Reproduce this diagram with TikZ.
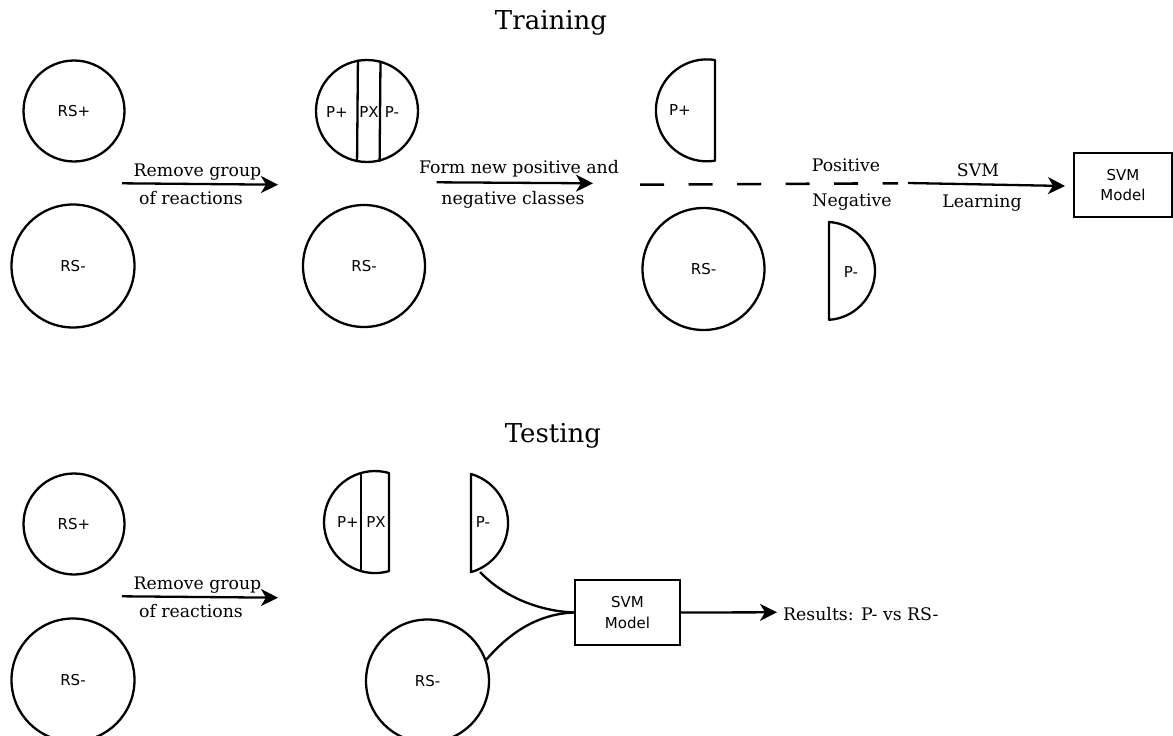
\documentclass[tikz,border=0pt]{standalone}
\usepackage{fontspec}
\setmainfont{DejaVu Serif}
\newfontfamily\sansf{DejaVu Sans}
\usetikzlibrary{arrows.meta}
\begin{document}
\begin{tikzpicture}[x=1pt,y=-1pt,
  ln/.style={line width=2.3pt},
  circ/.style={ln,draw,circle,inner sep=0pt,font=\sansf\fontsize{15}{17}\selectfont},
  half/.style={ln,draw,line join=round},
  sl/.style={inner sep=0pt,font=\sansf\fontsize{15}{17}\selectfont},
  lbl/.style={inner sep=0pt,anchor=base,font=\fontsize{17.3}{20}\selectfont},
  ttl/.style={inner sep=0pt,anchor=base,font=\fontsize{26}{30}\selectfont},
  arr/.style={ln,-{Stealth[length=17pt,width=17pt,inset=5pt]}},
  box/.style={ln,draw,rectangle,inner sep=0pt,align=center,font=\sansf\fontsize{15}{20.5}\selectfont}
]
\useasboundingbox (0,0) rectangle (1173,736);

% ---------------- Training ----------------
\node[ttl] (ttrain) at (551,29) {Training};

\node[circ,minimum size=101] (rsp1) at (74,111) {RS+};
\node[circ,minimum size=123] (rsm1) at (73,266) {RS-};

\coordinate (a1s) at (122,183.3);
\coordinate (a1e) at (278,184.7);
\draw[arr] (a1s) -- (a1e);
\node[lbl] (a1t) at (197.5,176.7) {Remove group};
\node[lbl] (a1b) at (191,204) {of reactions};

\node[circ,minimum size=102] (split) at (367,111) {};
\draw[ln] (split.100.2) -- (split.259.8);
\draw[ln] (split.75.2) -- (split.284.8);
\node[sl] (sp) at (337,112) {P+};
\node[sl] (sx) at (369,112) {PX};
\node[sl] (sm) at (392,112) {P-};
\node[circ,minimum size=122] (rsm2) at (364,266) {RS-};

\coordinate (a2s) at (436.7,182.3);
\coordinate (a2e) at (593,183.3);
\draw[arr] (a2s) -- (a2e);
\node[lbl] (a2t) at (519,173.3) {Form new positive and};
\node[lbl] (a2b) at (513,204) {negative classes};

\draw[half] (715,160) -- (715,60) arc[start angle=80.9,end angle=279.1,radius=51pt] -- cycle;
\node[sl] (hp) at (680,110) {P+};
\draw[half] (829,320) -- (829,222) arc[start angle=86.5,end angle=-86.5,radius=49pt] -- cycle;
\node[sl] (hm) at (851,272) {P-};
\node[circ,minimum size=122] (rsm3) at (703.5,269) {RS-};

\coordinate (ds) at (640,184.7);
\coordinate (de) at (898,183.3);
\draw[line width=2.6pt,dash pattern=on 24pt off 24.5pt] (ds) -- (de);
\node[lbl] (pos) at (846,171.7) {Positive};
\node[lbl] (neg) at (852,206.7) {Negative};

\node[box,minimum width=98,minimum height=64] (svm1) at (1123,185) {SVM\\Model};
\coordinate (a3s) at (908,183);
\coordinate (a3e) at (1065,186);
\draw[arr] (a3s) -- (a3e);
\node[lbl] (a3t) at (978,176.7) {SVM};
\node[lbl] (a3b) at (982,207.3) {Learning};

% ---------------- Testing ----------------
\node[ttl] (ttest) at (553,442) {Testing};

\node[circ,minimum size=101] (rsp4) at (74,524) {RS+};
\node[circ,minimum size=123] (rsm4) at (73,680) {RS-};

\coordinate (a4s) at (122,596.3);
\coordinate (a4e) at (278,597.7);
\draw[arr] (a4s) -- (a4e);
\node[lbl] (a4t) at (197.5,589.7) {Remove group};
\node[lbl] (a4b) at (191,617) {of reactions};

\draw[half] (389,571) -- (389,473) arc[start angle=74.1,end angle=285.9,radius=51pt] -- cycle;
\draw[ln] (361,473) -- (361,571);
\node[sl] (tp) at (348,522) {P+};
\node[sl] (tx) at (376,522) {PX};

\draw[half] (471,572) -- (471,474) arc[start angle=74.1,end angle=-74.1,radius=51pt] -- cycle;
\coordinate (pmb) at (480,572);
\node[sl] (tm) at (483,522) {P-};

\node[circ,minimum size=123] (rsm5) at (427.5,681) {RS-};

\node[box,minimum width=105,minimum height=65] (svm2) at (627.5,612.5) {SVM\\Model};

\draw[ln] (pmb) .. controls (505,598) and (540,611) .. (svm2.west);
\draw[ln] (rsm5.20) .. controls (512,630) and (540,614) .. (svm2.west);

\coordinate (a5e) at (777,612.3);
\draw[arr] (svm2.east) -- (a5e);
\node[lbl,anchor=base west] (res) at (783,620) {Results: P- vs RS-};
\end{tikzpicture}
\end{document}
